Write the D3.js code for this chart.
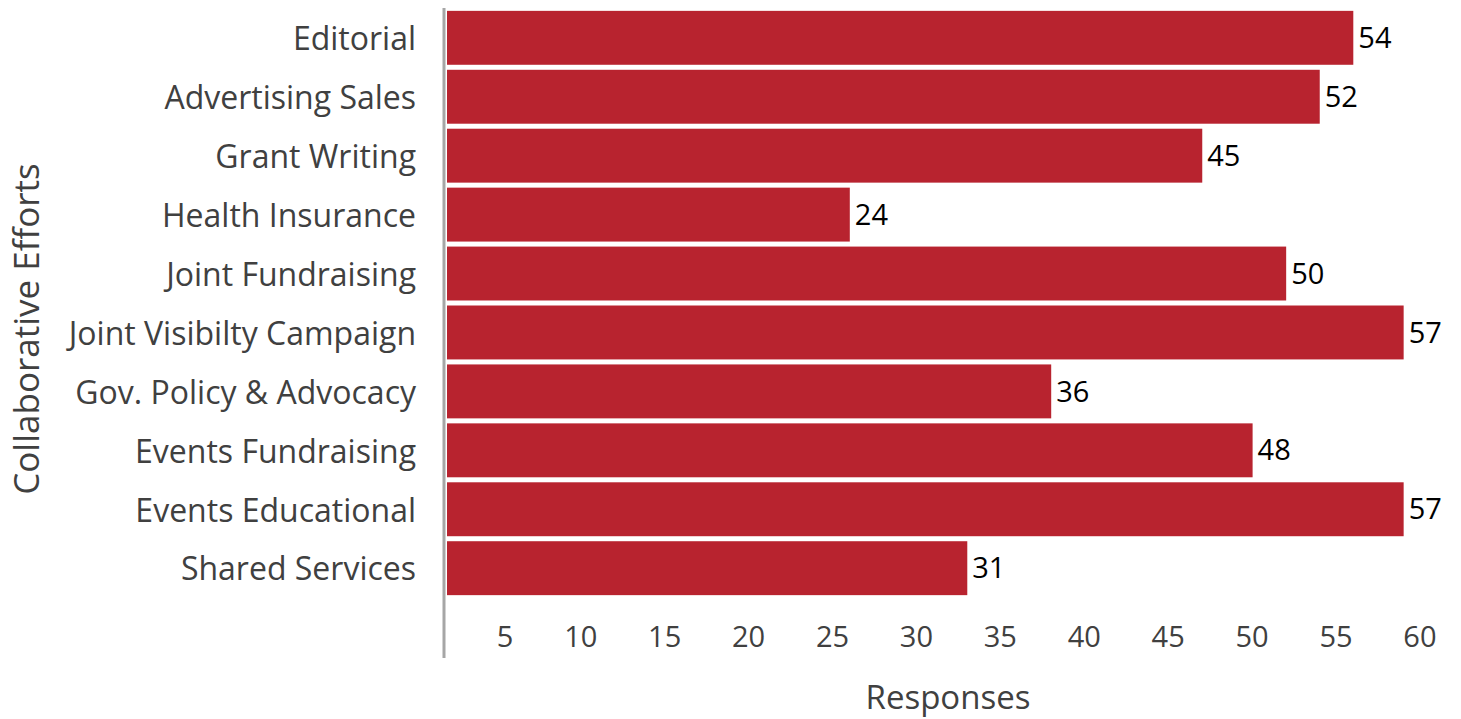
<!DOCTYPE html>
<html>
<head>
<meta charset="utf-8">
<script src="https://cdn.jsdelivr.net/npm/d3@7"></script>
<style>
  html, body { margin: 0; padding: 0; background: #fff; }
  svg { display: block; font-family: "Open Sans", sans-serif; }
</style>
</head>
<body>
<svg id="chart" width="1461" height="719"></svg>
<script>
// Collaborative efforts and the number of responses for each
const categories = [
  "Editorial", "Advertising Sales", "Grant Writing", "Health Insurance",
  "Joint Fundraising", "Joint Visibilty Campaign", "Gov. Policy & Advocacy",
  "Events Fundraising", "Events Educational", "Shared Services"
];
const responses = [54, 52, 45, 24, 50, 57, 36, 48, 57, 31];
const tickValues = [5, 10, 15, 20, 25, 30, 35, 40, 45, 50, 55, 60];
const xTitle = "Responses";
const yTitle = "Collaborative Efforts";

const svg = d3.select("#chart");
const plot = { left: 447, right: 1454, top: 8.5, bottom: 597.5 };

const x = d3.scaleLinear().domain([0, 60]).range([plot.left, plot.right]);
const y = d3.scaleBand().domain(categories)
  .range([plot.top, plot.bottom]).paddingInner(0.085).paddingOuter(0.04);

// bars
svg.append("g").selectAll("rect")
  .data(categories)
  .join("rect")
  .attr("x", x(0))
  .attr("y", d => y(d))
  .attr("width", (d, i) => x(responses[i]) - x(0))
  .attr("height", y.bandwidth())
  .attr("fill", "#b8232f");

// value labels
svg.append("g").selectAll("text")
  .data(categories)
  .join("text")
  .attr("x", (d, i) => x(responses[i]) + 5)
  .attr("y", d => y(d) + y.bandwidth() / 2)
  .attr("dy", "0.35em")
  .attr("font-size", 29)
  .attr("fill", "#000")
  .text((d, i) => responses[i]);

// category axis
const yAxis = svg.append("g")
  .attr("transform", `translate(${plot.left - 3},2)`)
  .call(d3.axisLeft(y).tickSize(0).tickPadding(28));
yAxis.select(".domain").remove();
yAxis.append("line")
  .attr("x1", 0).attr("x2", 0)
  .attr("y1", 6).attr("y2", 656)
  .attr("stroke", "#a6a6a6").attr("stroke-width", 3);
yAxis.selectAll("text")
  .attr("font-size", 32)
  .attr("font-family", "Open Sans, sans-serif")
  .attr("fill", "#404040");

// value axis (labels only, set just left of each tick position)
const xAxis = svg.append("g")
  .attr("transform", `translate(0,637)`)
  .call(d3.axisBottom(x).tickValues(tickValues).tickSize(0).tickPadding(0));
xAxis.select(".domain").remove();
xAxis.selectAll("text")
  .attr("font-size", 29)
  .attr("font-family", "Open Sans, sans-serif")
  .attr("fill", "#404040")
  .attr("text-anchor", "end")
  .attr("dx", -18)
  .attr("dy", "0.35em")
  .attr("y", 0);

// axis titles
svg.append("text")
  .attr("x", 948).attr("y", 697)
  .attr("dy", "0.35em")
  .attr("text-anchor", "middle")
  .attr("font-size", 33)
  .attr("fill", "#404040")
  .text(xTitle);

svg.append("text")
  .attr("transform", "translate(27,329) rotate(-90)")
  .attr("dy", "0.35em")
  .attr("text-anchor", "middle")
  .attr("font-size", 35)
  .attr("fill", "#404040")
  .text(yTitle);
</script>
</body>
</html>
